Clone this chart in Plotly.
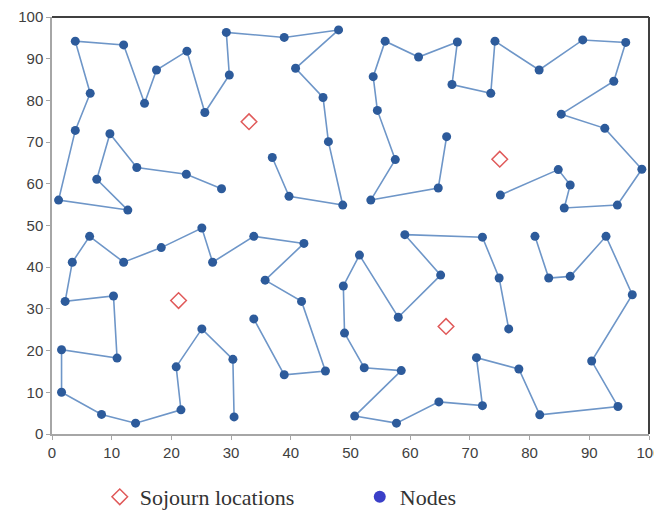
import plotly.graph_objects as go

# Route 1 (top-left)
p1_x = [28.4, 22.5, 14.2, 9.7, 7.5, 12.7, 1.1, 3.9, 6.4, 3.9, 12.0, 15.5, 17.5, 22.6, 25.6, 29.7, 29.2, 38.9, 48.0, 40.8, 45.4, 46.3, 48.7, 39.7, 36.9]
p1_y = [58.8, 62.3, 63.9, 72.0, 61.1, 53.7, 56.1, 72.8, 81.7, 94.2, 93.3, 79.3, 87.3, 91.8, 77.1, 86.1, 96.3, 95.1, 96.9, 87.7, 80.7, 70.1, 54.9, 57.0, 66.3]
# Route 2 (top-right)
p2_x = [66.1, 64.7, 53.4, 57.5, 54.5, 53.8, 55.8, 61.4, 67.9, 67.0, 73.5, 74.2, 81.6, 88.9, 96.1, 94.1, 85.3, 92.6, 98.8, 94.7, 85.8, 86.8, 84.8, 75.1]
p2_y = [71.3, 59.0, 56.1, 65.8, 77.6, 85.7, 94.2, 90.4, 94.0, 83.8, 81.7, 94.2, 87.3, 94.5, 93.9, 84.6, 76.7, 73.3, 63.5, 54.9, 54.2, 59.7, 63.4, 57.3]
# Route 3 (bottom-left)
p3_x = [30.5, 30.3, 25.1, 20.8, 21.6, 14.0, 8.3, 1.6, 1.6, 10.9, 10.3, 2.2, 3.4, 6.3, 12.0, 18.3, 25.1, 26.9, 33.8, 42.2, 35.7, 41.8, 45.8, 38.9, 33.8]
p3_y = [4.1, 17.9, 25.2, 16.1, 5.8, 2.6, 4.7, 10.0, 20.2, 18.2, 33.1, 31.8, 41.2, 47.4, 41.2, 44.7, 49.4, 41.2, 47.4, 45.7, 36.9, 31.8, 15.1, 14.2, 27.6]
# Route 4 (bottom-right)
p4_x = [76.5, 74.9, 72.1, 59.1, 65.1, 58.0, 51.5, 48.8, 49.0, 52.3, 58.5, 50.7, 57.7, 64.8, 72.1, 71.1, 78.2, 81.7, 94.8, 90.4, 97.2, 92.8, 86.8, 83.2, 80.9]
p4_y = [25.2, 37.4, 47.2, 47.8, 38.1, 28.0, 42.9, 35.5, 24.2, 15.9, 15.2, 4.3, 2.6, 7.7, 6.8, 18.3, 15.6, 4.6, 6.6, 17.5, 33.4, 47.4, 37.8, 37.4, 47.4]

sojourn_x = [33.0, 75.0, 21.2, 66.0]
sojourn_y = [74.9, 65.9, 32.0, 25.8]

tick_vals = [0, 10, 20, 30, 40, 50, 60, 70, 80, 90, 100]

NODE = "#2D5B9B"
LINE = "#6E96C8"

fig = go.Figure()
for px_, py_ in [(p1_x, p1_y), (p2_x, p2_y), (p3_x, p3_y), (p4_x, p4_y)]:
    fig.add_trace(go.Scatter(x=px_, y=py_, mode="lines+markers",
                             line=dict(color=LINE, width=1.6),
                             marker=dict(color=NODE, size=9),
                             showlegend=False, hoverinfo="x+y"))

fig.add_trace(go.Scatter(x=sojourn_x, y=sojourn_y, mode="markers", name="Sojourn locations",
                         marker=dict(symbol="diamond-open", color="#E05A5A", size=12,
                                     line=dict(width=1.5, color="#E05A5A"))))
fig.add_trace(go.Scatter(x=[None], y=[None], mode="markers", name="Nodes",
                         marker=dict(color="#3A3FC8", size=12)))

axis_common = dict(range=[0, 100], tickvals=tick_vals, showgrid=False, zeroline=False,
                   showline=True, linecolor="#A6A6A6", linewidth=1.5,
                   ticks="outside", ticklen=4, tickcolor="#A6A6A6",
                   tickfont=dict(family="Liberation Sans, Arial", size=15, color="#404040"))

fig.update_xaxes(**axis_common)
fig.update_yaxes(**axis_common)

# the page adds an 8px body margin, so the figure is 8px smaller and shifted
fig.update_layout(
    width=654, height=505,
    margin=dict(l=44, r=13, t=9, b=79, autoexpand=False),
    plot_bgcolor="white", paper_bgcolor="white",
    legend=dict(orientation="h", x=0.08, y=-0.151, xanchor="left", yanchor="middle",
                entrywidth=215, font=dict(family="Liberation Serif, Times New Roman", size=22, color="#333333")),
    shapes=[
        dict(type="line", xref="paper", yref="paper", x0=0, x1=1, y0=1, y1=1,
             line=dict(color="#404040", width=2)),
        dict(type="line", xref="paper", yref="paper", x0=1, x1=1, y0=0, y1=1,
             line=dict(color="#404040", width=2)),
    ],
)

fig.write_html("out.html")
